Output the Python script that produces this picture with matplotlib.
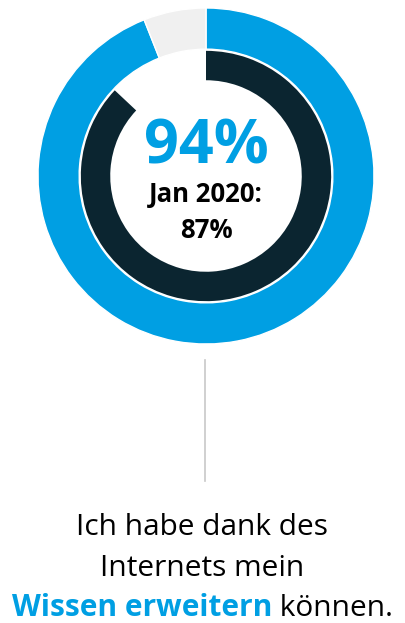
"""Donut chart: Wissen erweitern dank Internet."""

from matplotlib import pyplot as plt

# current value and comparison value (in %)
current = [94, 6]
previous = [87, 13]
headline = "94%"
compare_lines = ["Jan 2020:", "87%"]
caption_lines = ["Ich habe dank des", "Internets mein"]
caption_blue = "Wissen erweitern"
caption_end = " können."

blue = "#009fe3"
dark = "#0b2530"
grey = "#f0f0f0"

plt.rcParams["font.family"] = ["Open Sans", "DejaVu Sans"]

W, H = 405, 623
fig = plt.figure(figsize=(W / 100, H / 100), dpi=100)

# ring axes: centre at (206, 176) px from top, radius 168 px
cx, cy, r = 206, 176, 168
ax = fig.add_axes([(cx - r) / W, (H - cy - r) / H, 2 * r / W, 2 * r / H])
ax.pie(current, colors=[blue, grey], startangle=90, counterclock=False,
       radius=1.0, wedgeprops=dict(width=0.245, edgecolor="white", linewidth=1))
ax.pie(previous, colors=[dark, "none"], startangle=90, counterclock=False,
       radius=0.745, wedgeprops=dict(width=0.175, edgecolor="none"))
ax.set_xlim(-1, 1)
ax.set_ylim(-1, 1)
ax.set_aspect("equal")
ax.axis("off")

ax.text(0, 0.077, headline, ha="center", va="baseline", color=blue,
        fontsize=44, fontweight="bold")
ax.text(0, -0.155, compare_lines[0], ha="center", va="baseline", color="black",
        fontsize=18.5, fontweight="bold")
ax.text(0, -0.369, compare_lines[1], ha="center", va="baseline", color="black",
        fontsize=18.5, fontweight="bold")

# connector line
fig.add_artist(plt.Line2D([205 / W, 205 / W], [1 - 360 / H, 1 - 481 / H],
                          color="#c8c8c8", linewidth=1.2))

# caption
cap_size = 21.5
fig.text(0.5, 1 - 535 / H, caption_lines[0], ha="center", va="baseline",
         fontsize=cap_size, color="black")
fig.text(0.5, 1 - 576 / H, caption_lines[1], ha="center", va="baseline",
         fontsize=cap_size, color="black")

renderer = fig.canvas.get_renderer()
t1 = fig.text(0, 1 - 616 / H, caption_blue, ha="left", va="baseline",
              fontsize=cap_size, fontweight="bold", color=blue)
t2 = fig.text(0, 1 - 616 / H, caption_end, ha="left", va="baseline",
              fontsize=cap_size, color="black")
w1 = t1.get_window_extent(renderer).width
w2 = t2.get_window_extent(renderer).width
x0 = (W - w1 - w2) / 2
t1.set_x(x0 / W)
t2.set_x((x0 + w1) / W)

fig.savefig("out.png", dpi=100)
